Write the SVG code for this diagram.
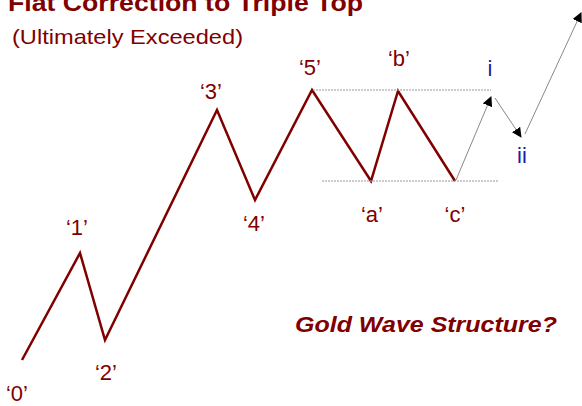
<svg xmlns="http://www.w3.org/2000/svg" width="582" height="406" viewBox="0 0 582 406">
<defs>
<style>
.lbl{font-family:"Liberation Sans",Arial,sans-serif;font-size:22px;fill:#800000;text-anchor:middle}
.blu{font-family:"Liberation Sans",Arial,sans-serif;font-size:22px;fill:#1c1ca8;text-anchor:middle}
.wave{fill:none;stroke:#800000;stroke-width:2.5;stroke-linejoin:miter}
.dash{fill:none;stroke:#999;stroke-width:1.2;stroke-dasharray:2 1}
.arr{fill:none;stroke:#888;stroke-width:1;marker-end:url(#ah)}
</style>
<marker id="ah" viewBox="0 0 10 10" refX="9" refY="5" markerWidth="10" markerHeight="10" markerUnits="userSpaceOnUse" orient="auto">
<path d="M0,0 L10,5 L0,10 z" fill="#000"/>
</marker>
</defs>
<rect width="582" height="406" fill="#fff"/>
<g id="title">
<text x="8" y="11" font-family="Liberation Sans,Arial,sans-serif" font-weight="bold" font-size="23" fill="#800000" textLength="355" lengthAdjust="spacingAndGlyphs">Flat Correction to Triple Top</text>
<text x="12" y="44" font-family="Liberation Sans,Arial,sans-serif" font-size="21" fill="#800000" textLength="231" lengthAdjust="spacingAndGlyphs">(Ultimately Exceeded)</text>
</g>
<g id="connectors">
<polyline class="wave" points="22,360 80,253 105,340 217,110 255,200 312,90 371,181 398,91 455,181"/>
<line class="dash" x1="313" y1="90" x2="491" y2="90"/>
<line class="dash" x1="322" y1="181" x2="498" y2="181"/>
<line class="arr" x1="456" y1="180" x2="491" y2="97"/>
<line class="arr" x1="495" y1="98" x2="521" y2="137"/>
<line class="arr" x1="525" y1="134" x2="581" y2="13"/>
</g>
<g id="n0"><text class="lbl" x="17" y="401">‘0’</text></g>
<g id="n1"><text class="lbl" x="77" y="235">‘1’</text></g>
<g id="n2"><text class="lbl" x="106" y="380">‘2’</text></g>
<g id="n3"><text class="lbl" x="211" y="99">‘3’</text></g>
<g id="n4"><text class="lbl" x="254" y="231">‘4’</text></g>
<g id="n5"><text class="lbl" x="310" y="75">‘5’</text></g>
<g id="na"><text class="lbl" x="372" y="222">‘a’</text></g>
<g id="nb"><text class="lbl" x="399" y="66">‘b’</text></g>
<g id="nc"><text class="lbl" x="455" y="222">‘c’</text></g>
<g id="ni"><text class="blu" x="490" y="76">i</text></g>
<g id="nii"><text class="blu" x="522" y="163">ii</text></g>
<g id="caption"><text x="295" y="332" font-family="Liberation Sans,Arial,sans-serif" font-weight="bold" font-style="italic" font-size="22" fill="#800000" textLength="262" lengthAdjust="spacingAndGlyphs">Gold Wave Structure?</text></g>
</svg>
